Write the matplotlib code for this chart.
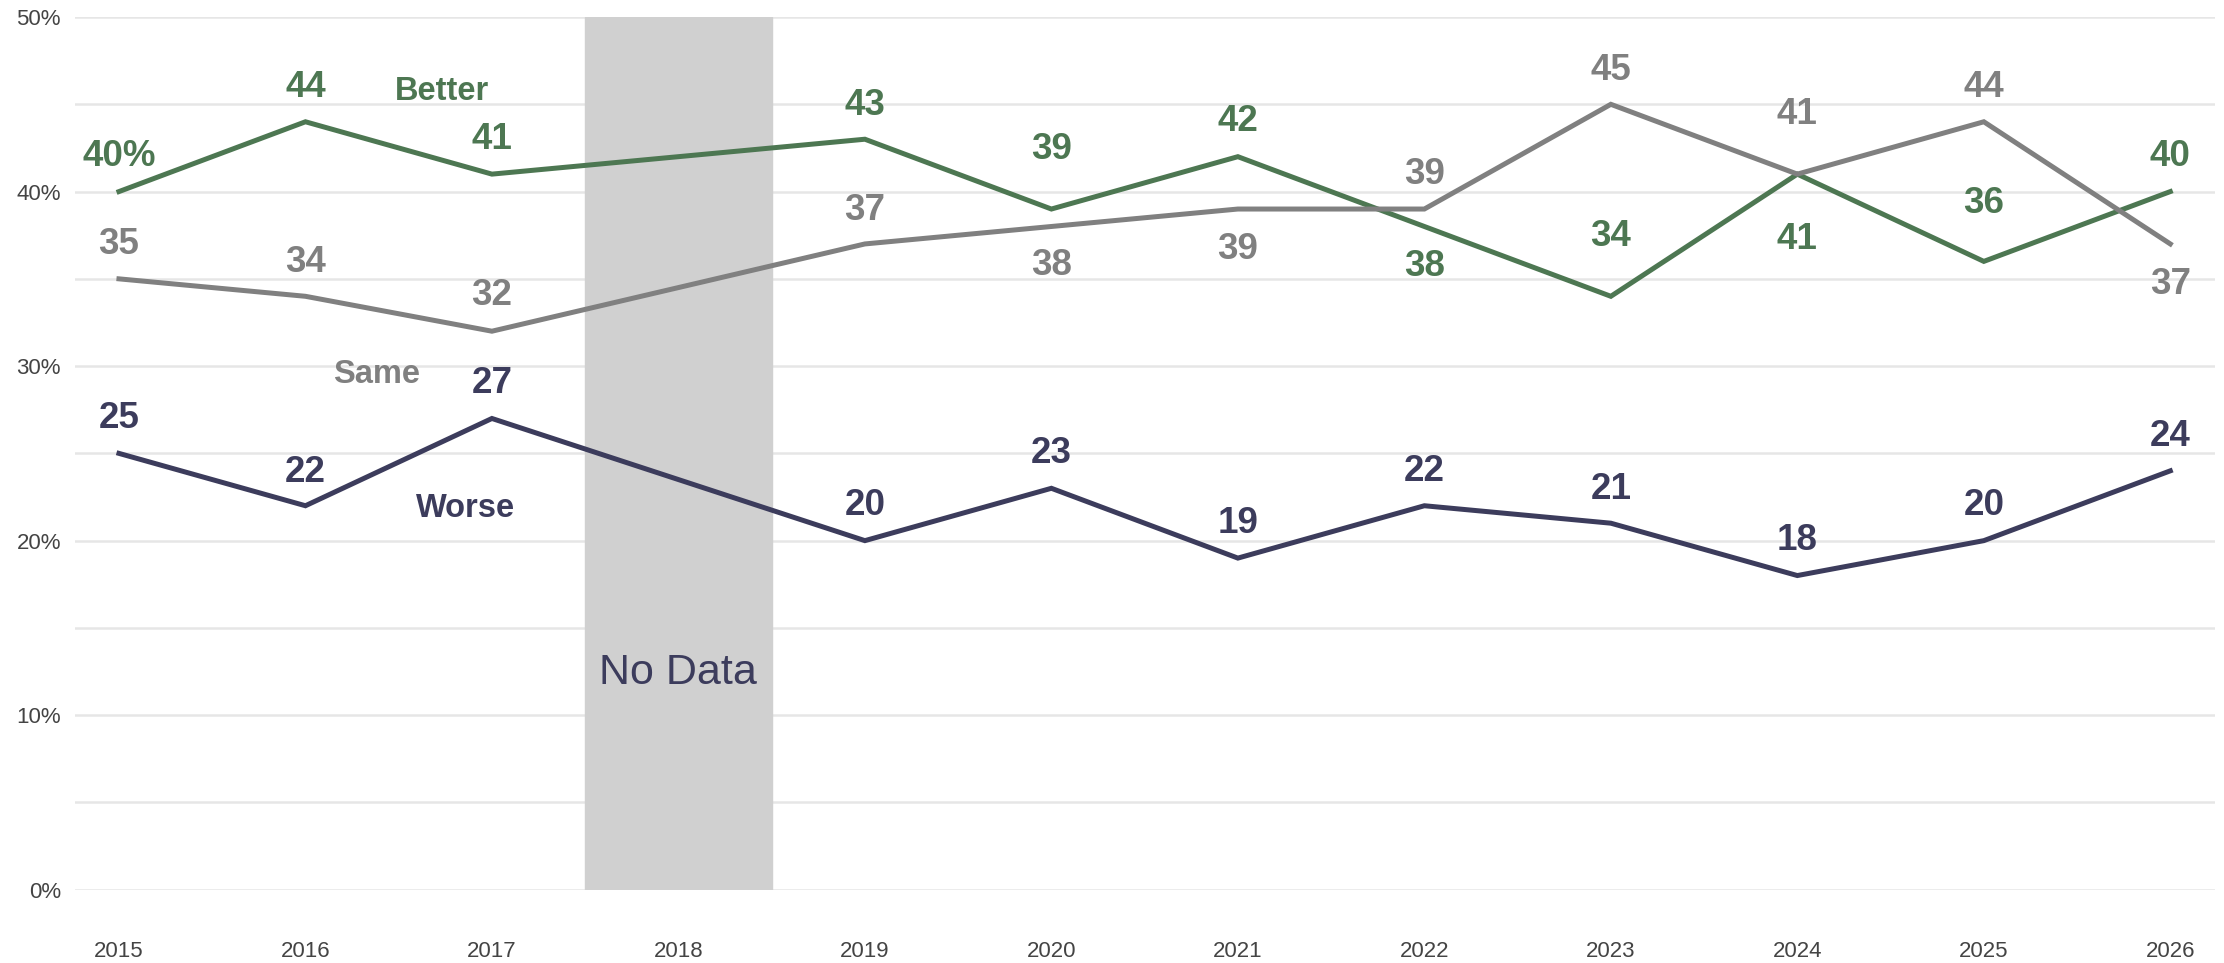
import matplotlib
matplotlib.use("Agg")
import matplotlib.pyplot as plt
from matplotlib.ticker import MultipleLocator, FuncFormatter

plt.rcParams["font.family"] = ["Liberation Sans", "DejaVu Sans"]

years = [2015, 2016, 2017, 2019, 2020, 2021, 2022, 2023, 2024, 2025, 2026]
tick_years = list(range(2015, 2027))
better = [40, 44, 41, 43, 39, 42, 38, 34, 41, 36, 40]
same = [35, 34, 32, 37, 38, 39, 39, 45, 41, 44, 37]
worse = [25, 22, 27, 20, 23, 19, 22, 21, 18, 20, 24]
no_data_year = 2018

# label offsets in points (negative = above the point)
better_off = [-27, -27, -27, -26, -45, -27, 27, -45, 45, -44, -27]
same_off = [-27, -26, -28, -26, 26, 27, -27, -26, -45, -27, 27]
worse_off = [-27, -26, -27, -27, -27, -27, -27, -26, -27, -27, -27]
LABEL_SHIFT = 2  # points, pushes every value label down a touch

GREEN = "#4d7752"
GRAY = "#808080"
NAVY = "#3c3c5c"

fig = plt.figure(figsize=(22.24, 9.63), dpi=100)
ax = fig.add_axes([0.0337, 0.0761, 0.9622, 0.9062])

ax.set_xlim(2014.764, 2026.239)
ax.set_ylim(0, 50)

ax.axvspan(no_data_year - 0.5, no_data_year + 0.5, color="#d0d0d0", zorder=1)
ax.text(no_data_year, 12.4, "No Data", color=NAVY, fontsize=31,
        ha="center", va="center", zorder=3)

series = [
    (better, better_off, GREEN, "Better", (2016.73, 45.75)),
    (same, same_off, GRAY, "Same", (2016.38, 29.5)),
    (worse, worse_off, NAVY, "Worse", (2016.86, 21.85)),
]

for vals, offs, col, name, name_pos in series:
    ax.plot(years, vals, color=col, lw=3.6, zorder=4, solid_joinstyle="miter")
    for i, (x, v, off) in enumerate(zip(years, vals, offs)):
        txt = f"{v}%" if (name == "Better" and i == 0) else str(v)
        ax.annotate(txt, (x, v), xytext=(0, -off - LABEL_SHIFT),
                    textcoords="offset points", ha="center", va="center",
                    fontsize=26.5, fontweight="bold", color=col, zorder=5)
    ax.text(name_pos[0], name_pos[1], name, color=col, fontsize=23.5,
            fontweight="bold", ha="center", va="center", zorder=5)

ax.yaxis.set_major_locator(MultipleLocator(10))
ax.yaxis.set_minor_locator(MultipleLocator(5))
ax.yaxis.set_major_formatter(FuncFormatter(lambda v, p: f"{v:.0f}%"))
ax.set_xticks(tick_years)
ax.set_xticklabels([str(y) for y in tick_years])

ax.grid(which="both", axis="y", color="#e6e6e6", lw=1.8, zorder=0)
ax.grid(False, axis="x")
ax.set_axisbelow(True)
for s in ax.spines.values():
    s.set_visible(False)
ax.tick_params(axis="both", which="both", length=0, labelsize=16,
               labelcolor="#444444")
ax.tick_params(axis="y", pad=10)
ax.tick_params(axis="x", pad=37)

fig.savefig("out.png", dpi=100, facecolor="white")
